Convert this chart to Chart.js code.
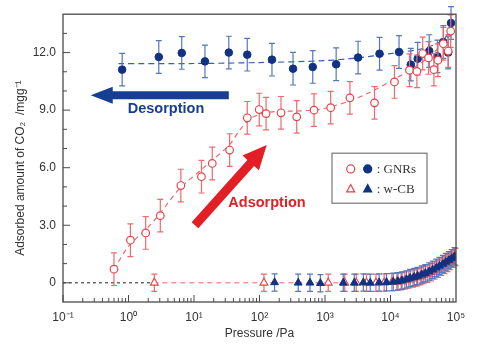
<!DOCTYPE html>
<html>
<head>
<meta charset="utf-8">
<script src="https://cdn.jsdelivr.net/npm/chart.js@4.4.1/dist/chart.umd.min.js"></script>
<style>
  html, body { margin: 0; padding: 0; background: #fff; }
</style>
</head>
<body>
<canvas id="chart" width="479" height="344"></canvas>
<script>
(function () {
	'use strict';

	// GNRs, adsorption branch (open red circles)
	const gnrAdsP = [0.6, 1.07, 1.83, 3.06, 6.3, 13, 19, 35, 65, 99, 126, 213, 370, 680, 1220, 2400, 5700, 11500, 19500, 25300, 31000, 38000, 46000, 53000, 64000, 76000, 83000];
	const gnrAdsV = [0.71, 2.22, 2.6, 3.5, 5.07, 5.53, 6.22, 6.92, 8.6, 9.03, 8.82, 8.86, 8.65, 9.0, 9.13, 9.64, 9.38, 10.47, 11.08, 11.02, 11.95, 11.72, 11.11, 11.6, 12.46, 12.08, 13.12];

	// GNRs, desorption branch (filled blue circles)
	const gnrDesP = [0.8, 2.9, 6.5, 14.7, 34, 65, 155, 325, 650, 1480, 3200, 6800, 13500, 20400, 26000, 39000, 52000, 64000, 76000, 84000];
	const gnrDesV = [11.11, 11.77, 11.98, 11.54, 12.0, 11.89, 11.63, 11.16, 11.25, 11.39, 11.74, 11.94, 12.03, 11.37, 11.68, 12.08, 11.8, 12.55, 12.0, 13.54];

	// w-CB, adsorption (open red triangles)
	const wcbAdsP = [2.48, 117, 1120, 2000, 3000, 4300, 6000, 8000, 10500, 12500, 14500, 16500, 19000, 22000, 25000, 28500, 32000, 36500, 41500, 47000, 53000, 59500, 66500, 74000, 82000, 90000, 98000];
	const wcbAdsV = [0, 0, 0, 0, 0, 0, 0, 0.01, 0.03, 0.05, 0.08, 0.12, 0.17, 0.22, 0.28, 0.34, 0.4, 0.47, 0.55, 0.64, 0.73, 0.83, 0.93, 1.03, 1.13, 1.25, 1.35];

	// w-CB, desorption (filled blue triangles)
	const wcbDesP = [170, 390, 590, 850, 1900, 2800, 3850, 4900, 6700, 8700, 11000, 13000, 15000, 17500, 20000, 23000, 26000, 30000, 34000, 39000, 44000, 50000, 56000, 63000, 70000, 78000, 86000, 95000];
	const wcbDesV = [0.02, 0, 0, -0.02, 0, 0, 0.02, 0, 0.02, 0.03, 0.05, 0.08, 0.12, 0.18, 0.25, 0.3, 0.36, 0.43, 0.5, 0.59, 0.68, 0.78, 0.88, 0.98, 1.08, 1.18, 1.28, 1.38];

	// dashed guide curves
	const fitAdsP = [0.6, 1, 2, 3, 6, 13, 20, 35, 50, 76, 145, 500, 1000, 2500, 5000, 10000, 20000, 40000, 85000];
	const fitAdsV = [0.7, 1.9, 2.9, 3.6, 4.9, 5.9, 6.45, 7.2, 7.96, 8.6, 8.9, 8.97, 9.1, 9.5, 9.95, 10.5, 11.1, 11.8, 13.0];
	const fitDesP = [0.7, 10, 100, 1000, 3000, 10000, 30000, 60000, 90000];
	const fitDesV = [11.42, 11.43, 11.48, 11.58, 11.72, 11.95, 12.2, 12.6, 13.3];

	// zero baselines
	const baseBlackP = [0.1, 2.4];
	const baseRedP = [2.4, 12000];

	const gnrErr = 0.85;
	const wcbErr = 0.45;

	const xTicks = [0.1, 1, 10, 100, 1000, 10000, 100000];
	const yTicks = [0, 3, 6, 9, 12];

	const BLUE = '#0f3282';
	const BLUE_BAR = '#5577bd';
	const RED = '#e8434a';
	const RED_BAR = '#ee6a6e';

	const sup = {'-': '\u207B', '0': '\u2070', '1': '\u00B9', '2': '\u00B2', '3': '\u00B3', '4': '\u2074', '5': '\u2075'};

	function pts(xs, ys) {
		return xs.map(function (x, i) { return {x: x, y: ys[i]}; });
	}
	function flat(xs) {
		return xs.map(function (x) { return {x: x, y: 0}; });
	}

	const annotations = {
		arrows: [
			{from: [34, 9.78], to: [0.265, 9.78], color: '#173f91', width: 8, head: 22, headW: 17},
			{from: [10.35, 3.0], to: [129, 7.18], color: '#e31e24', width: 9, head: 24, headW: 22}
		],
		labels: [
			{text: 'Desorption', at: [3.74, 9.05], color: '#173f91'},
			{text: 'Adsorption', at: [130, 4.18], color: '#e31e24'}
		]
	};

	const errorBars = {
		id: 'errorBars',
		beforeDatasetDraw(chart, args) {
			const ds = chart.data.datasets[args.index];
			if (!ds.errorBar) {
				return;
			}
			const ctx = chart.ctx;
			const y = chart.scales.y;
			ctx.save();
			ctx.strokeStyle = ds.errorColor;
			ctx.lineWidth = 1.2;
			ctx.beginPath();
			args.meta.data.forEach(function (pt, i) {
				const v = ds.data[i].y;
				const t = y.getPixelForValue(v + ds.errorBar);
				const b = y.getPixelForValue(v - ds.errorBar);
				ctx.moveTo(pt.x, t); ctx.lineTo(pt.x, b);
				ctx.moveTo(pt.x - 3, t); ctx.lineTo(pt.x + 3, t);
				ctx.moveTo(pt.x - 3, b); ctx.lineTo(pt.x + 3, b);
			});
			ctx.stroke();
			ctx.restore();
		}
	};

	function drawArrow(ctx, x1, y1, x2, y2, w, hl, hw) {
		const len = Math.hypot(x2 - x1, y2 - y1);
		ctx.save();
		ctx.translate(x1, y1);
		ctx.rotate(Math.atan2(y2 - y1, x2 - x1));
		ctx.beginPath();
		ctx.moveTo(0, -w / 2);
		ctx.lineTo(len - hl, -w / 2);
		ctx.lineTo(len - hl, -hw / 2);
		ctx.lineTo(len, 0);
		ctx.lineTo(len - hl, hw / 2);
		ctx.lineTo(len - hl, w / 2);
		ctx.lineTo(0, w / 2);
		ctx.closePath();
		ctx.fill();
		ctx.restore();
	}

	function marker(ctx, style, x, y, filled, color) {
		const r = 4;
		ctx.beginPath();
		if (style === 'circle') {
			ctx.arc(x, y, r, 0, Math.PI * 2);
		} else {
			ctx.moveTo(x, y - r * 1.1);
			ctx.lineTo(x + r, y + r * 0.75);
			ctx.lineTo(x - r, y + r * 0.75);
			ctx.closePath();
		}
		ctx.lineWidth = 1.2;
		ctx.strokeStyle = color;
		ctx.fillStyle = filled ? color : '#fff';
		ctx.fill();
		ctx.stroke();
	}

	const decorations = {
		id: 'decorations',
		afterDatasetsDraw(chart) {
			const ctx = chart.ctx;
			const a = chart.chartArea;
			const x = chart.scales.x;
			const y = chart.scales.y;
			ctx.save();

			// frame with inward ticks
			ctx.strokeStyle = '#4a4a4a';
			ctx.lineWidth = 1.3;
			ctx.strokeRect(a.left, a.top, a.right - a.left, a.bottom - a.top);
			ctx.lineWidth = 1;
			ctx.beginPath();
			for (let e = -1; e < 5; e++) {
				for (let m = 1; m < 10; m++) {
					const px = x.getPixelForValue(m * Math.pow(10, e));
					const len = m === 1 ? 7 : 4;
					ctx.moveTo(px, a.bottom);
					ctx.lineTo(px, a.bottom - len);
				}
			}
			for (let v = 0; v <= 13; v++) {
				const py = y.getPixelForValue(v);
				const len = v % 3 === 0 ? 7 : 4;
				ctx.moveTo(a.left, py);
				ctx.lineTo(a.left + len, py);
			}
			ctx.stroke();

			// arrows and their labels
			annotations.arrows.forEach(function (ar) {
				ctx.fillStyle = ar.color;
				drawArrow(ctx,
					x.getPixelForValue(ar.from[0]), y.getPixelForValue(ar.from[1]),
					x.getPixelForValue(ar.to[0]), y.getPixelForValue(ar.to[1]),
					ar.width, ar.head, ar.headW);
			});
			ctx.font = 'bold 14.5px "Liberation Sans", Arial, sans-serif';
			ctx.textAlign = 'center';
			ctx.textBaseline = 'middle';
			annotations.labels.forEach(function (lb) {
				ctx.fillStyle = lb.color;
				ctx.fillText(lb.text, x.getPixelForValue(lb.at[0]), y.getPixelForValue(lb.at[1]));
			});

			// legend box
			const bx = a.left + 269, by = a.top + 139;
			ctx.fillStyle = '#fff';
			ctx.fillRect(bx, by, 95, 50);
			ctx.strokeStyle = '#777';
			ctx.lineWidth = 1.2;
			ctx.strokeRect(bx, by, 95, 50);
			marker(ctx, 'circle', bx + 18.7, by + 15.7, false, RED);
			marker(ctx, 'circle', bx + 35.7, by + 15.7, true, BLUE);
			marker(ctx, 'triangle', bx + 18.7, by + 35.7, false, RED);
			marker(ctx, 'triangle', bx + 35.7, by + 35.7, true, BLUE);
			ctx.fillStyle = '#333';
			ctx.font = '13px "Liberation Serif", "Times New Roman", serif';
			ctx.textAlign = 'left';
			ctx.fillText(': GNRs', bx + 44.7, by + 16);
			ctx.fillText(': w-CB', bx + 44.7, by + 36);

			ctx.restore();
		}
	};

	const tickFont = {family: '"Liberation Sans", Arial, sans-serif', size: 12};

	new Chart(document.getElementById('chart'), {
		type: 'scatter',
		data: {
			datasets: [
				{
					label: 'GNRs adsorption',
					data: pts(gnrAdsP, gnrAdsV),
					pointStyle: 'circle', pointRadius: 3.8, borderWidth: 1.2,
					backgroundColor: '#fff', borderColor: RED,
					errorBar: gnrErr, errorColor: RED_BAR
				},
				{
					label: 'GNRs desorption',
					data: pts(gnrDesP, gnrDesV),
					pointStyle: 'circle', pointRadius: 3.8, borderWidth: 1,
					backgroundColor: BLUE, borderColor: BLUE,
					errorBar: gnrErr, errorColor: BLUE_BAR
				},
				{
					label: 'w-CB desorption',
					data: pts(wcbDesP, wcbDesV),
					pointStyle: 'triangle', pointRadius: 4.5, borderWidth: 1,
					backgroundColor: BLUE, borderColor: BLUE,
					errorBar: wcbErr, errorColor: BLUE_BAR
				},
				{
					label: 'w-CB adsorption',
					data: pts(wcbAdsP, wcbAdsV),
					pointStyle: 'triangle', pointRadius: 4.5, borderWidth: 1.2,
					backgroundColor: '#fff', borderColor: RED,
					errorBar: wcbErr, errorColor: RED_BAR
				},
				{
					label: 'GNRs desorption guide',
					data: pts(fitDesP, fitDesV),
					showLine: true, pointRadius: 0, borderWidth: 1.2,
					borderColor: '#3b5fb3', borderDash: [6, 4], tension: 0.3
				},
				{
					label: 'GNRs adsorption guide',
					data: pts(fitAdsP, fitAdsV),
					showLine: true, pointRadius: 0, borderWidth: 1.1,
					borderColor: '#ec6267', borderDash: [5, 4], tension: 0.3
				},
				{
					label: 'baseline',
					data: flat(baseBlackP),
					showLine: true, pointRadius: 0, borderWidth: 1,
					borderColor: '#222', borderDash: [3, 3]
				},
				{
					label: 'w-CB baseline',
					data: flat(baseRedP),
					showLine: true, pointRadius: 0, borderWidth: 1,
					borderColor: '#ec6267', borderDash: [5, 4]
				}
			]
		},
		options: {
			responsive: false,
			animation: false,
			layout: {
				padding: {left: 0, top: 13, right: 23, bottom: 0}
			},
			plugins: {
				legend: {display: false},
				tooltip: {enabled: false}
			},
			scales: {
				x: {
					type: 'logarithmic',
					min: 0.1,
					max: 100000,
					afterBuildTicks: function (scale) {
						scale.ticks = xTicks.map(function (v) { return {value: v}; });
					},
					afterFit: function (scale) {
						scale.height = 42;
					},
					grid: {display: false, drawTicks: false},
					border: {display: false},
					ticks: {
						autoSkip: false,
						maxRotation: 0,
						padding: 8,
						color: '#333',
						font: tickFont,
						callback: function (value) {
							const e = String(Math.round(Math.log10(value)));
							return '10' + e.split('').map(function (c) { return sup[c]; }).join('');
						}
					},
					title: {
						display: true,
						text: 'Pressure /Pa',
						color: '#333',
						font: tickFont,
						padding: {top: 0, bottom: 3}
					}
				},
				y: {
					min: -1,
					max: 14,
					afterBuildTicks: function (scale) {
						scale.ticks = yTicks.map(function (v) { return {value: v}; });
					},
					afterFit: function (scale) {
						scale.width = 63;
					},
					grid: {display: false, drawTicks: false},
					border: {display: false},
					ticks: {
						padding: 7,
						color: '#333',
						font: tickFont,
						callback: function (value) {
							return value === 0 ? '0' : value.toFixed(1);
						}
					},
					title: {
						display: true,
						// trailing spaces nudge the rotated title down like the original
						text: 'Adsorbed amount of CO\u2082  /mgg\u207B\u00B9      ',
						color: '#333',
						font: tickFont,
						padding: {top: 13, bottom: 0}
					}
				}
			}
		},
		plugins: [errorBars, decorations]
	});
})();
</script>
</body>
</html>
